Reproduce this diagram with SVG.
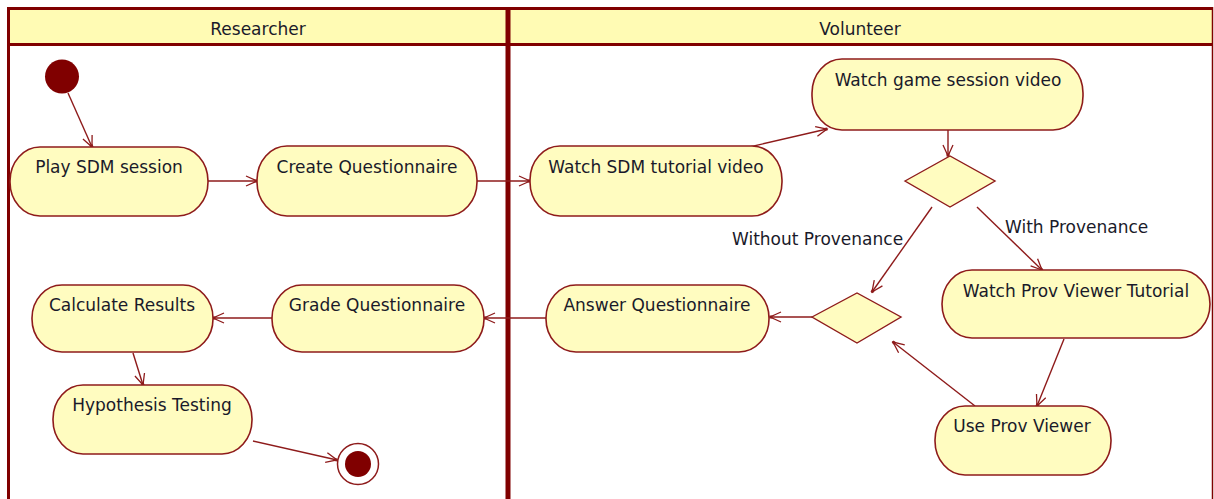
<svg xmlns="http://www.w3.org/2000/svg" width="1214" height="499" viewBox="0 0 1214 499">
<defs>
<style>
.frame{fill:none;stroke:#800000;}
.act{fill:#FFFCC0;stroke:#8E1B1B;stroke-width:1.6;}
.dec{fill:#FFFCC0;stroke:#8E1B1B;stroke-width:1.4;}
.t{font-family:"DejaVu Sans",Tahoma,sans-serif;font-size:17px;fill:#1a1a2a;}
.c{text-anchor:middle;}
.e{fill:none;stroke:#8E1B1B;stroke-width:1.4;marker-end:url(#arr);}
</style>
<marker id="arr" markerUnits="userSpaceOnUse" markerWidth="14" markerHeight="12" viewBox="0 0 14 12" refX="12" refY="6" orient="auto">
<path d="M1,1 L12,6 L1,11" fill="none" stroke="#8E1B1B" stroke-width="1.3"/>
<rect x="9.5" y="4.5" width="3" height="3" fill="#8E1B1B"/>
</marker>
</defs>
<rect width="1214" height="499" fill="#ffffff"/>
<g id="lanes">
<rect x="9" y="9" width="1203" height="35" fill="#FFFBB4"/>
<line class="frame" x1="7" y1="8.5" x2="1213" y2="8.5" stroke-width="3"/>
<line class="frame" x1="8.5" y1="7" x2="8.5" y2="499" stroke-width="3"/>
<line class="frame" x1="7" y1="44.5" x2="1213" y2="44.5" stroke-width="3"/>
<line class="frame" x1="508" y1="7" x2="508" y2="499" stroke-width="5"/>
<line class="frame" x1="1212.5" y1="7" x2="1212.5" y2="499" stroke-width="1.5"/>
<text class="t c" x="258" y="35">Researcher</text>
<text class="t c" x="860" y="35">Volunteer</text>
</g>
<g id="connectors">
<line class="e" x1="68" y1="93" x2="92" y2="147"/>
<line class="e" x1="208" y1="181" x2="257" y2="181"/>
<line class="e" x1="477" y1="181" x2="530" y2="181"/>
<line class="e" x1="745" y1="148" x2="827" y2="129"/>
<line class="e" x1="948" y1="130" x2="948" y2="156"/>
<line class="e" x1="932" y1="207" x2="872" y2="292"/>
<line class="e" x1="977" y1="207" x2="1042" y2="270"/>
<line class="e" x1="1064" y1="339" x2="1037" y2="406"/>
<line class="e" x1="975" y1="406" x2="893" y2="342"/>
<line class="e" x1="812" y1="317" x2="770" y2="317"/>
<line class="e" x1="546" y1="318" x2="484" y2="318"/>
<line class="e" x1="272" y1="318" x2="213" y2="318"/>
<line class="e" x1="133" y1="353" x2="143" y2="385"/>
<line class="e" x1="253" y1="441" x2="337" y2="460"/>
<text class="t" x="732" y="245">Without Provenance</text>
<text class="t" x="1005" y="233">With Provenance</text>
</g>
<g id="initial"><circle cx="62" cy="76.5" r="17" fill="#800000"/></g>
<g id="play-sdm"><rect class="act" x="10" y="147" width="198" height="69" rx="30" ry="34"/><text class="t c" x="109" y="173">Play SDM session</text></g>
<g id="create-q"><rect class="act" x="257" y="146" width="220" height="70" rx="30" ry="34"/><text class="t c" x="367" y="173">Create Questionnaire</text></g>
<g id="watch-sdm"><rect class="act" x="530" y="146" width="252" height="70" rx="30" ry="34"/><text class="t c" x="656" y="173">Watch SDM tutorial video</text></g>
<g id="watch-game"><rect class="act" x="812" y="59" width="271" height="71" rx="30" ry="34"/><text class="t c" x="948" y="86">Watch game session video</text></g>
<g id="decision1"><polygon class="dec" points="905,181 950,156 995,181 950,207"/></g>
<g id="watch-prov-tut"><rect class="act" x="942" y="270" width="268" height="68" rx="30" ry="34"/><text class="t c" x="1076" y="297">Watch Prov Viewer Tutorial</text></g>
<g id="use-prov"><rect class="act" x="935" y="406" width="176" height="69" rx="30" ry="34"/><text class="t c" x="1022" y="432">Use Prov Viewer</text></g>
<g id="decision2"><polygon class="dec" points="812,317 857,293 901,317 857,343"/></g>
<g id="answer-q"><rect class="act" x="546" y="285" width="223" height="67" rx="30" ry="33"/><text class="t c" x="657" y="311">Answer Questionnaire</text></g>
<g id="grade-q"><rect class="act" x="272" y="285" width="212" height="67" rx="30" ry="33"/><text class="t c" x="377" y="311">Grade Questionnaire</text></g>
<g id="calc"><rect class="act" x="32" y="285" width="181" height="67" rx="30" ry="33"/><text class="t c" x="122" y="311">Calculate Results</text></g>
<g id="hypo"><rect class="act" x="53" y="385" width="199" height="69" rx="30" ry="34"/><text class="t c" x="152" y="411">Hypothesis Testing</text></g>
<g id="final"><circle cx="358" cy="464" r="20.5" fill="#ffffff" stroke="#8E1B1B" stroke-width="1.5"/><circle cx="358" cy="464" r="13" fill="#800000"/></g>
</svg>
